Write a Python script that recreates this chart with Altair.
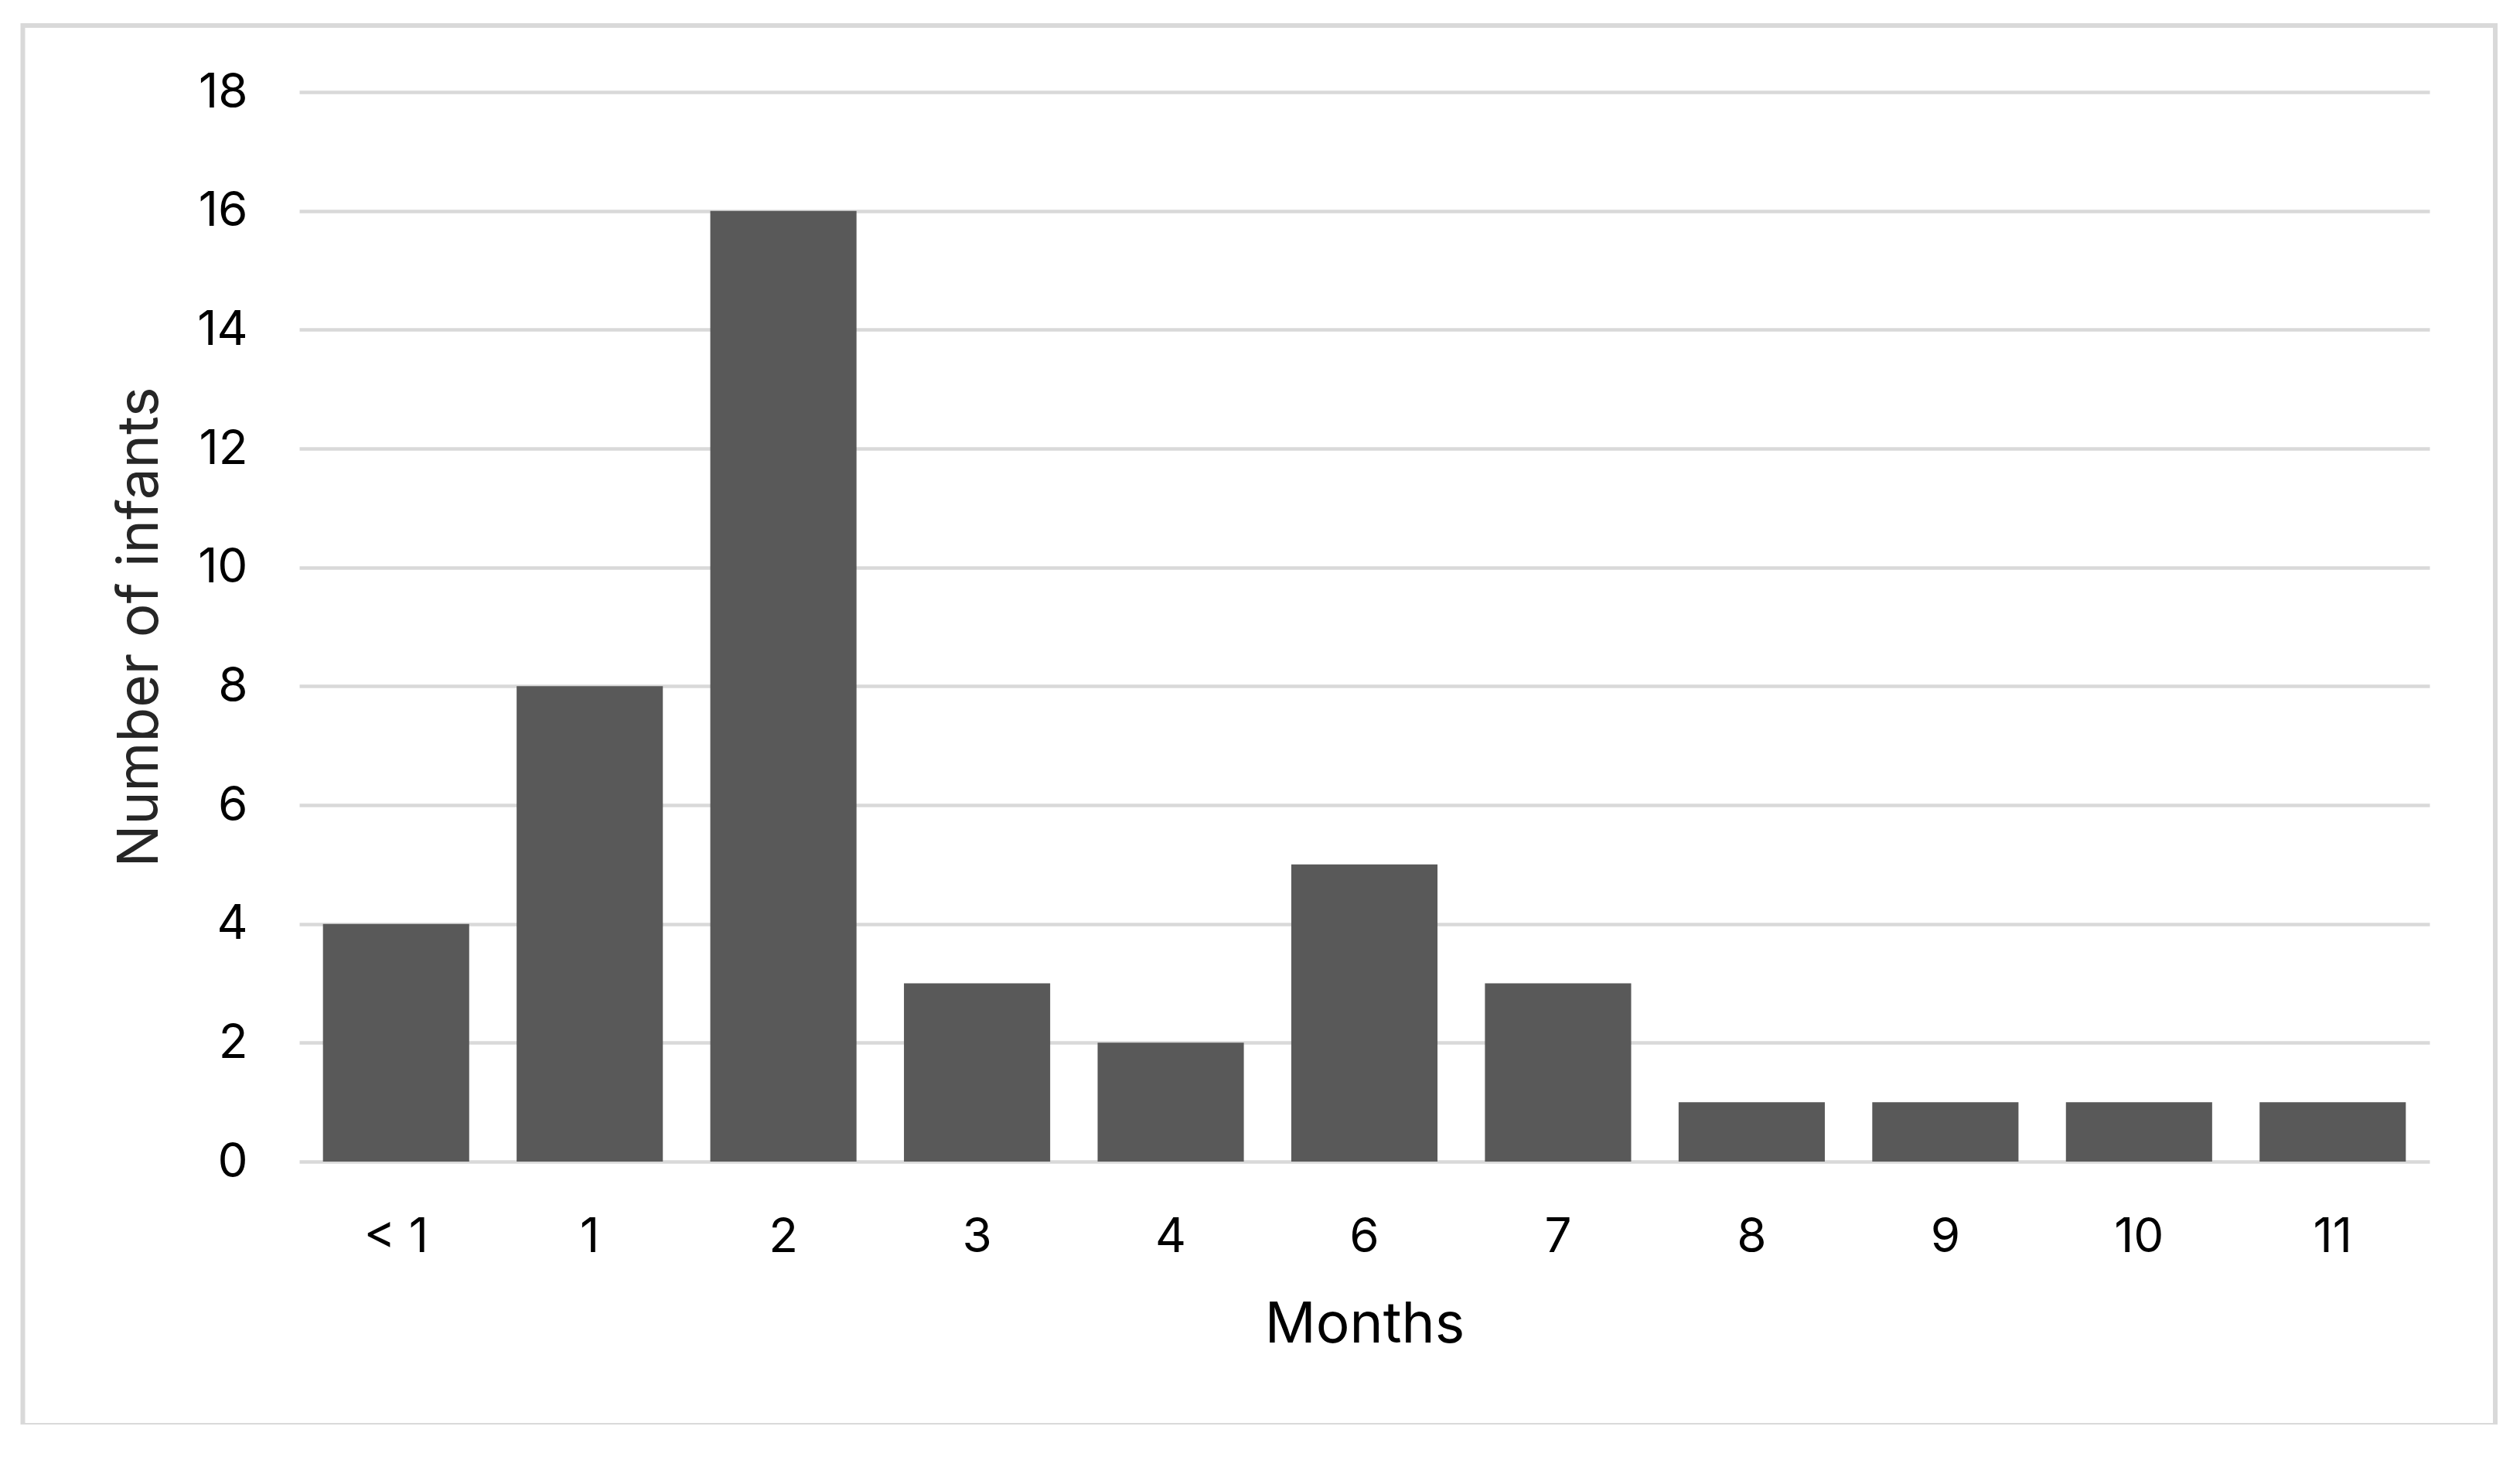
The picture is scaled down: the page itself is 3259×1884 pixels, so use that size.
import altair as alt
import pandas as pd

months = ["< 1", "1", "2", "3", "4", "6", "7", "8", "9", "10", "11"]
infants = [4, 8, 16, 3, 2, 5, 3, 1, 1, 1, 1]
y_ticks = [0, 2, 4, 6, 8, 10, 12, 14, 16, 18]

df = pd.DataFrame({"Months": months, "Infants": infants})

FONT = "Inter"
W, H = 2755, 1383

bars = alt.Chart(df).mark_bar(color="#595959").encode(
    x=alt.X(
        "Months:N",
        sort=months,
        scale=alt.Scale(paddingInner=0.245, paddingOuter=0.1225),
        axis=alt.Axis(
            title="Months",
            labelAngle=0,
            labelFontSize=62,
            labelColor="#000000",
            labelFont=FONT,
            labelPadding=67,
            ticks=False,
            domain=False,
            titleFontSize=73,
            titleFont=FONT,
            titleFontWeight="normal",
            titleColor="#000000",
            titleBaseline="alphabetic",
            titleY=233,
        ),
    ),
    y=alt.Y(
        "Infants:Q",
        scale=alt.Scale(domain=[0, 18], nice=False),
        axis=alt.Axis(
            title="Number of infants",
            values=y_ticks,
            labelFontSize=62,
            labelColor="#000000",
            labelFont=FONT,
            labelPadding=67,
            ticks=False,
            domain=False,
            grid=True,
            gridColor="#d9d9d9",
            gridWidth=4.5,
            titleFontSize=73,
            titleFont=FONT,
            titleFontWeight="normal",
            titleColor="#262626",
            titleAngle=-90,
            titleBaseline="alphabetic",
            titleAlign="center",
            titleX=-184,
            titleY=H / 2,
        ),
    ),
)

frame = alt.Chart(pd.DataFrame({"f": [0]})).mark_rect(
    fillOpacity=0, stroke="#d9d9d9", strokeWidth=6, clip=False
).encode(
    x=alt.value(-357.5),
    x2=alt.value(2840),
    y=alt.value(-86),
    y2=alt.value(1724),
)

chart = alt.layer(frame, bars).properties(
    width=W,
    height=H,
    padding={"left": 379, "top": 111, "right": 100, "bottom": 340},
    autosize=alt.AutoSizeParams(type="none"),
    background="white",
).configure_view(stroke=None)

chart.save("out.html", embed_options={"renderer": "svg", "actions": False})
